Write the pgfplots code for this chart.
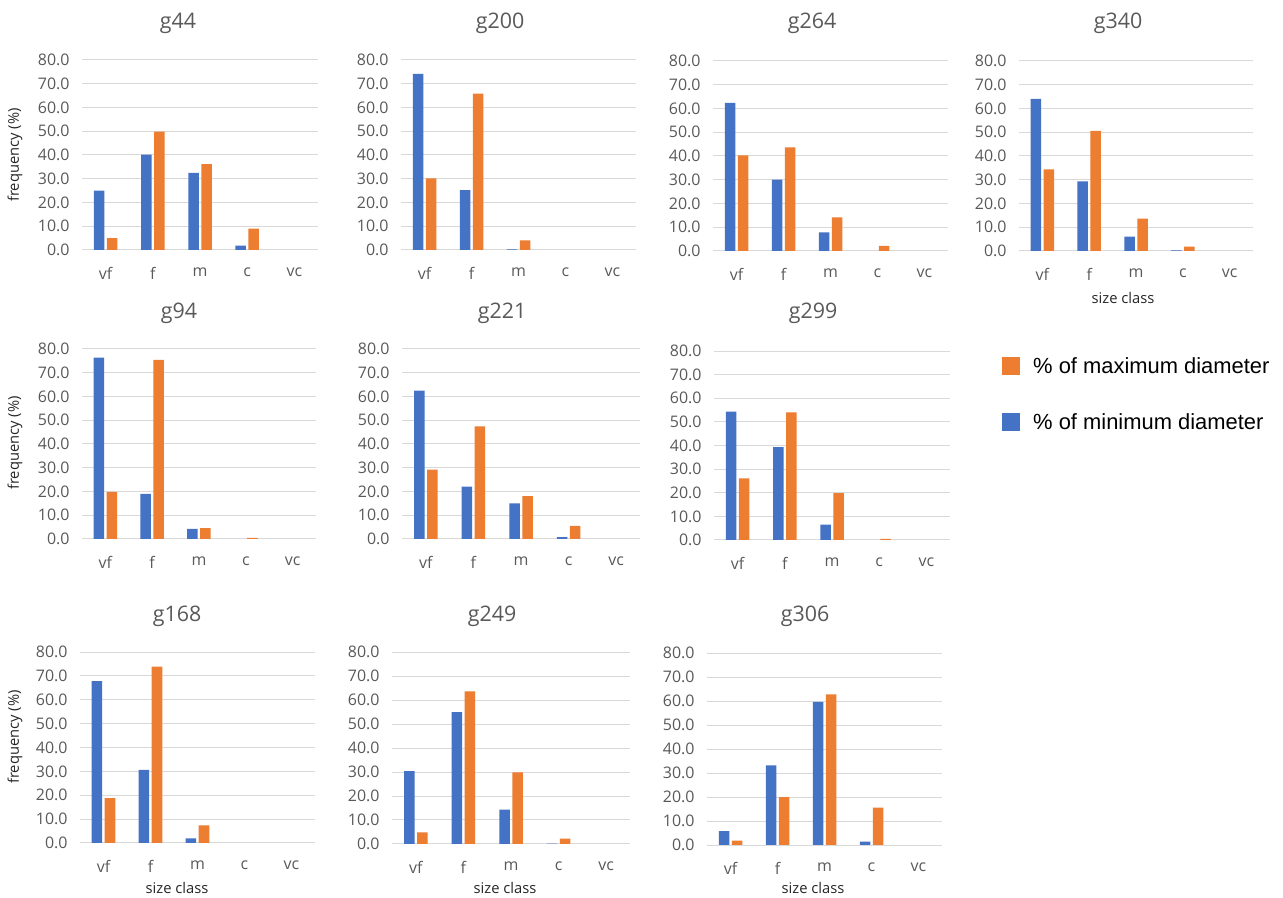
\documentclass[border=0pt]{standalone}
\usepackage{pgfplots}
\pgfplotsset{compat=1.18}
\usepackage{fontspec}
\setmainfont{Open Sans}
\newfontfamily\legfont{Liberation Sans}

\definecolor{minblue}{HTML}{4472C4}
\definecolor{maxorange}{HTML}{ED7D31}
\definecolor{gridgray}{HTML}{D9D9D9}
\definecolor{ticktext}{HTML}{595959}
\definecolor{labtext}{HTML}{262626}

\pgfplotsset{
  panel/.style={
    anchor=south west, scale only axis,
    xmin=-0.5, xmax=4.5, ymin=0, ymax=80,
    ytick={0,10,...,80},
    xtick={0,1,2,3,4}, xticklabels={vf,f,m,c,vc},
    ymajorgrids, grid style={gridgray, line width=1bp},
    axis line style={draw=none}, major tick length=0pt,
    ybar=2.5bp, bar width=10.5bp,
    y filter/.expression={y==0 ? nan : y},
    /pgf/number format/assume math mode=true,
    yticklabel style={/pgf/number format/fixed, /pgf/number format/fixed zerofill,
      /pgf/number format/precision=1, font=\fontsize{16}{18}\selectfont,
      text=ticktext, xshift=-9bp},
    xticklabel style={font=\fontsize{16}{18}\selectfont, text=ticktext, yshift=-14bp},
  },
  minbar/.style={fill=minblue, draw=none},
  maxbar/.style={fill=maxorange, draw=none},
}

\begin{document}
\begin{tikzpicture}
\useasboundingbox (0,0) rectangle (1283bp,898bp);

% row 1
\begin{axis}[panel, at={(82bp,648bp)}, width=236bp, height=190bp]
  \addplot[minbar] coordinates {(0,25.0) (1,40.2) (2,32.5) (3,1.8) (4,0)};
  \addplot[maxbar] coordinates {(0,5.0) (1,49.8) (2,36.2) (3,9.0) (4,0)};
\end{axis}
\begin{axis}[panel, at={(401bp,648bp)}, width=235bp, height=190bp]
  \addplot[minbar] coordinates {(0,74.2) (1,25.2) (2,0.3) (3,0) (4,0)};
  \addplot[maxbar] coordinates {(0,30.2) (1,65.8) (2,4.0) (3,0) (4,0)};
\end{axis}
\begin{axis}[panel, at={(713bp,647bp)}, width=235bp, height=190bp]
  \addplot[minbar] coordinates {(0,62.4) (1,30.0) (2,7.8) (3,0) (4,0)};
  \addplot[maxbar] coordinates {(0,40.3) (1,43.6) (2,14.2) (3,2.2) (4,0)};
\end{axis}
\begin{axis}[panel, at={(1019bp,647bp)}, width=234bp, height=190bp]
  \addplot[minbar] coordinates {(0,64.0) (1,29.3) (2,6.0) (3,0.3) (4,0)};
  \addplot[maxbar] coordinates {(0,34.4) (1,50.6) (2,13.6) (3,1.8) (4,0)};
\end{axis}

% row 2
\begin{axis}[panel, at={(82bp,359bp)}, width=234bp, height=190bp]
  \addplot[minbar] coordinates {(0,76.4) (1,19.0) (2,4.3) (3,0) (4,0)};
  \addplot[maxbar] coordinates {(0,19.8) (1,75.4) (2,4.6) (3,0.5) (4,0)};
\end{axis}
\begin{axis}[panel, at={(402bp,359bp)}, width=238bp, height=190bp]
  \addplot[minbar] coordinates {(0,62.5) (1,22.0) (2,15.0) (3,0.8) (4,0)};
  \addplot[maxbar] coordinates {(0,29.2) (1,47.4) (2,18.0) (3,5.5) (4,0)};
\end{axis}
\begin{axis}[panel, at={(714bp,358bp)}, width=236bp, height=189bp]
  \addplot[minbar] coordinates {(0,54.3) (1,39.3) (2,6.5) (3,0) (4,0)};
  \addplot[maxbar] coordinates {(0,26.1) (1,54.0) (2,19.8) (3,0.5) (4,0)};
\end{axis}

% row 3
\begin{axis}[panel, at={(80bp,55bp)}, width=235bp, height=191bp]
  \addplot[minbar] coordinates {(0,67.8) (1,30.6) (2,1.9) (3,0) (4,0)};
  \addplot[maxbar] coordinates {(0,18.8) (1,73.9) (2,7.4) (3,0) (4,0)};
\end{axis}
\begin{axis}[panel, at={(392bp,54bp)}, width=238bp, height=192bp]
  \addplot[minbar] coordinates {(0,30.4) (1,55.0) (2,14.3) (3,0.2) (4,0)};
  \addplot[maxbar] coordinates {(0,4.8) (1,63.6) (2,29.8) (3,2.2) (4,0)};
\end{axis}
\begin{axis}[panel, at={(707bp,53bp)}, width=235bp, height=192bp]
  \addplot[minbar] coordinates {(0,5.8) (1,33.2) (2,59.6) (3,1.4) (4,0)};
  \addplot[maxbar] coordinates {(0,1.8) (1,20.0) (2,62.8) (3,15.6) (4,0)};
\end{axis}

% legend
\begin{axis}[at={(1002bp,443bp)}, anchor=south west, scale only axis,
  width=270bp, height=100bp, hide axis, xmin=0, xmax=1, ymin=0, ymax=1,
  legend style={at={(0,1)}, anchor=north west, draw=none, fill=none,
    inner sep=0pt, row sep=35bp, font=\legfont\fontsize{22}{24}\selectfont},
  legend cell align=left,
  legend image code/.code={\fill[#1] (0bp,-9bp) rectangle (18bp,9bp); \path (29bp,0bp);}]
  \addlegendimage{fill=maxorange, draw=none}
  \addlegendentry{\% of maximum diameter}
  \addlegendimage{fill=minblue, draw=none}
  \addlegendentry{\% of minimum diameter}
\end{axis}

% titles
\begin{scope}[every node/.style={anchor=base, text=ticktext, font=\fontsize{21.5}{25}\selectfont}]
  \node at (178bp,869bp) {g44};
  \node at (500bp,869bp) {g200};
  \node at (812bp,869bp) {g264};
  \node at (1118bp,869bp) {g340};
  \node at (179bp,579bp) {g94};
  \node at (502bp,579bp) {g221};
  \node at (813bp,579bp) {g299};
  \node at (177bp,276bp) {g168};
  \node at (492bp,276bp) {g249};
  \node at (805bp,276bp) {g306};
\end{scope}

% axis labels
\begin{scope}[every node/.style={text=labtext, font=\fontsize{14.8}{17}\selectfont}]
  \node[rotate=90] at (15bp,743bp) {frequency (\%)};
  \node[rotate=90] at (15bp,455bp) {frequency (\%)};
  \node[rotate=90] at (15bp,161bp) {frequency (\%)};
  \node at (1123bp,600bp) {size class};
  \node at (177bp,10bp) {size class};
  \node at (505bp,10bp) {size class};
  \node at (813bp,10bp) {size class};
\end{scope}
\end{tikzpicture}
\end{document}
